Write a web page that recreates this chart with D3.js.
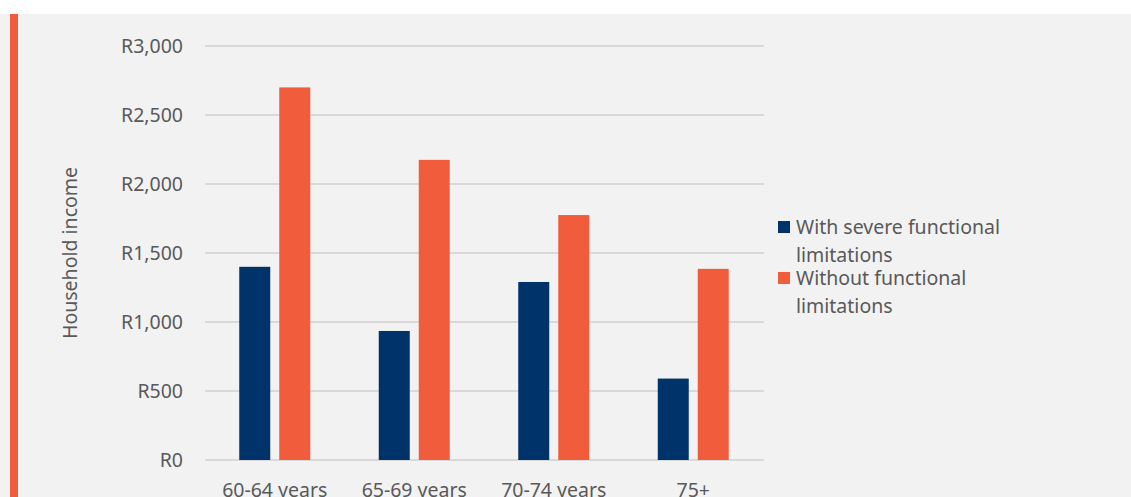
<!DOCTYPE html>
<html><head><meta charset="utf-8">
<script src="https://cdn.jsdelivr.net/npm/d3@7"></script>
<style>
html,body{margin:0;padding:0;background:#fff;}
svg{display:block;}
text{font-family:"Noto Sans",sans-serif;fill:#595959;}
</style></head>
<body>
<script>
const categories = ["60-64 years", "65-69 years", "70-74 years", "75+"];
const seriesNames = ["With severe functional limitations", "Without functional limitations"];
const withSevere = [1400, 935, 1290, 590];
const withoutLimitations = [2700, 2175, 1775, 1385];
const yTicks = [0, 500, 1000, 1500, 2000, 2500, 3000];
const colors = ["#003369", "#f15d3c"];

const W = 1131, H = 497;
const FS = 19.5;
const svg = d3.select("body").append("svg").attr("width", W).attr("height", H);
svg.append("rect").attr("x", 0).attr("y", 14).attr("width", W).attr("height", H - 14).attr("fill", "#f2f2f2");
svg.append("rect").attr("x", 10).attr("y", 14).attr("width", 8).attr("height", H - 14).attr("fill", "#f15d3c");

const x0 = d3.scaleBand().domain(categories).range([205, 763]).paddingInner(0).paddingOuter(0);
const y = d3.scaleLinear().domain([0, 3000]).range([460, 46]);

// gridlines
svg.append("g").selectAll("line").data(yTicks).join("line")
  .attr("x1", 205).attr("x2", 764)
  .attr("y1", d => y(d)).attr("y2", d => y(d))
  .attr("stroke", "#d9d9d9").attr("stroke-width", 2);

// y axis labels
const yAxis = d3.axisLeft(y).tickValues(yTicks).tickSize(0).tickPadding(0)
  .tickFormat(d => "R" + d3.format(",")(d));
const gy = svg.append("g").attr("transform", "translate(183,0)").call(yAxis);
gy.select(".domain").remove();
gy.selectAll("text").attr("font-size", FS).attr("fill", "#595959").attr("font-family", '"Noto Sans",sans-serif');

// x axis labels
const xAxis = d3.axisBottom(x0).tickSize(0).tickPadding(0);
const gx = svg.append("g").attr("transform", "translate(0,460)").call(xAxis);
gx.select(".domain").remove();
gx.selectAll("text").attr("font-size", FS).attr("fill", "#595959").attr("font-family", '"Noto Sans",sans-serif')
  .attr("y", 37).attr("dy", 0);

// bars
const data = categories.map((c, i) => ({c, vals: [withSevere[i], withoutLimitations[i]]}));
const barW = 31, gap = 9;
const groups = svg.append("g").selectAll("g").data(data).join("g")
  .attr("transform", d => `translate(${x0(d.c) + x0.bandwidth() / 2},0)`);
groups.selectAll("rect").data(d => d.vals.map((v, j) => ({v, j}))).join("rect")
  .attr("x", d => d.j === 0 ? -(barW + gap / 2) : gap / 2)
  .attr("width", barW)
  .attr("y", d => y(d.v))
  .attr("height", d => y(0) - y(d.v))
  .attr("fill", d => colors[d.j]);

// y title
svg.append("text").attr("transform", "translate(77,253) rotate(-90)")
  .attr("text-anchor", "middle").attr("font-size", FS).text("Household income");

// legend
const legendLines = [["With severe functional", "limitations"], ["Without functional", "limitations"]];
const lg = svg.append("g");
legendLines.forEach((lines, i) => {
  const top = 221 + i * 51;
  lg.append("rect").attr("x", 778).attr("y", top).attr("width", 12).attr("height", 12).attr("fill", colors[i]);
  lines.forEach((t, k) => {
    lg.append("text").attr("x", 796).attr("y", top + 13 + k * 28).attr("font-size", FS).text(t);
  });
});
</script>
</body></html>
